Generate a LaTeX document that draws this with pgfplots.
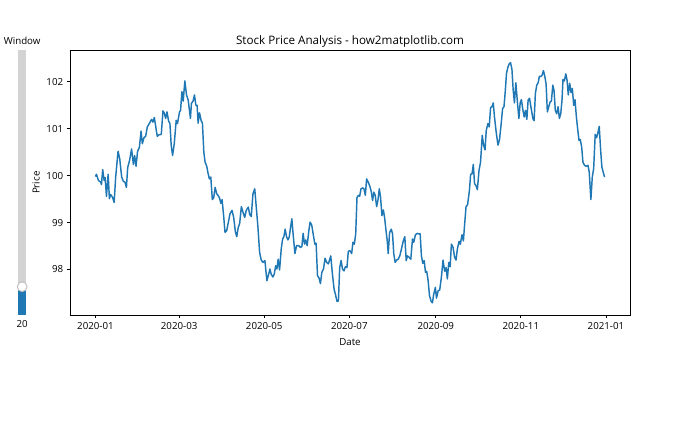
\documentclass[border=0pt]{standalone}
\usepackage{pgfplots}
\pgfplotsset{compat=1.18}
\usepackage{fontspec}
\setmainfont{Open Sans}
\definecolor{mplblue}{HTML}{1F77B4}
\definecolor{trackgrey}{HTML}{D3D3D3}
\definecolor{knobedge}{HTML}{BFBFBF}
\pgfplotstableread{
d p
0.0 99.98
0.7 100.03
2.1 99.90
3.8 99.86
4.3 99.81
5.2 100.13
6.2 99.90
6.9 99.96
7.9 99.56
9.1 100.03
10.0 99.51
10.9 99.60
12.2 99.54
13.4 99.43
14.5 99.97
16.2 100.52
17.4 100.36
18.8 99.97
20.0 99.88
21.2 99.86
22.2 99.75
23.1 100.17
24.5 100.33
25.9 100.57
27.2 100.24
28.1 100.43
29.1 100.20
30.2 100.52
31.5 100.60
32.7 100.95
33.6 100.68
34.8 100.81
36.0 100.84
37.2 101.04
38.8 101.12
40.2 101.20
41.2 101.14
42.2 101.24
43.1 101.07
44.3 100.84
45.5 100.87
47.2 100.88
48.4 101.38
49.3 101.34
50.3 101.22
51.3 101.36
52.4 101.17
53.4 101.11
54.3 100.65
55.3 100.43
56.5 100.68
57.9 101.18
58.8 101.11
60.3 101.36
61.0 101.39
62.0 101.79
62.9 101.59
64.1 102.02
65.3 101.72
66.5 101.61
67.4 101.39
68.1 101.22
68.8 101.54
70.0 101.59
71.0 101.72
72.0 101.50
72.9 101.50
73.6 101.12
74.6 101.34
75.8 101.17
76.7 101.12
77.7 100.50
78.6 100.29
79.8 100.20
80.8 100.04
81.7 99.93
82.7 99.97
83.8 99.49
84.8 99.53
85.8 99.75
87.0 99.61
87.9 99.58
88.9 99.53
89.9 99.41
90.8 99.49
92.0 99.11
92.9 98.79
94.1 98.83
95.3 99.01
96.5 99.19
97.9 99.26
99.1 99.11
100.3 98.81
101.3 98.70
102.4 98.90
103.4 98.98
104.6 99.34
105.8 99.22
107.0 99.11
108.1 99.26
109.6 99.33
110.6 99.17
111.7 99.13
112.9 99.61
114.2 99.72
115.3 99.33
116.5 98.90
117.7 98.36
118.9 98.20
120.1 98.15
121.5 98.19
122.9 97.76
124.2 97.90
125.1 98.01
126.0 97.90
127.2 97.84
128.2 97.90
129.2 98.08
130.1 98.01
131.0 98.22
132.0 97.99
133.2 98.44
134.2 98.65
135.1 98.70
136.0 98.86
137.0 98.70
138.0 98.63
138.9 98.69
139.9 98.90
140.8 99.08
141.7 98.76
143.0 98.34
144.2 98.51
145.6 98.51
147.0 98.47
148.0 98.49
148.9 98.77
149.9 98.54
150.8 98.63
151.8 98.51
153.0 98.83
153.9 99.01
155.1 98.94
156.3 98.72
157.3 98.54
158.2 98.56
159.2 97.87
160.3 97.82
161.3 97.70
162.3 97.94
163.5 98.01
164.6 98.24
165.8 98.15
167.0 98.12
168.7 98.29
169.9 97.90
171.1 97.58
172.3 97.44
173.2 97.32
174.2 97.33
175.1 98.04
176.1 98.19
177.1 98.01
178.2 97.97
179.2 98.06
180.3 98.04
181.3 98.39
182.5 98.40
183.7 98.34
184.6 98.58
185.6 98.54
186.6 98.76
187.5 99.53
188.5 99.58
189.4 99.56
190.4 99.72
191.6 99.74
192.5 99.72
193.5 99.58
194.4 99.93
195.6 99.86
196.8 99.77
197.8 99.65
198.7 99.47
199.6 99.65
200.6 99.58
201.6 99.34
202.5 99.47
203.5 99.72
204.4 99.54
205.4 99.15
206.4 99.27
207.3 99.11
208.2 98.86
209.2 98.61
209.9 98.34
210.9 98.79
212.1 98.86
213.0 98.76
213.9 98.33
214.9 98.15
215.8 98.20
217.1 98.22
218.2 98.29
219.4 98.44
220.7 98.61
221.8 98.70
222.8 98.19
223.7 98.29
224.9 98.26
226.1 98.22
227.3 98.65
228.2 98.58
229.4 98.74
230.7 98.77
231.8 98.76
232.8 98.76
233.7 98.29
234.7 98.13
235.7 98.19
236.6 97.94
237.5 97.96
238.5 97.77
239.5 97.44
240.7 97.32
241.6 97.29
242.5 97.47
243.7 97.62
244.5 97.39
245.7 97.55
246.8 97.56
248.0 97.83
249.2 98.20
250.4 97.96
251.4 98.04
252.3 97.80
253.3 98.15
254.3 98.06
255.2 98.54
256.4 98.47
257.5 98.26
258.5 98.20
259.5 98.44
260.7 98.60
261.6 98.54
262.8 98.74
263.8 98.61
264.7 98.97
265.7 99.34
266.8 99.38
268.1 99.68
269.0 100.03
270.0 100.04
270.9 100.24
271.8 99.83
272.8 99.79
273.8 99.70
275.0 100.11
276.1 100.29
277.3 100.86
278.3 100.65
279.3 100.55
280.2 100.97
281.4 101.11
282.3 101.04
283.3 101.45
284.3 101.47
285.2 101.55
286.1 101.25
287.3 100.93
288.6 100.65
289.7 100.77
290.9 101.11
291.9 101.43
292.9 101.47
293.8 101.79
294.7 102.18
295.7 102.31
296.6 102.38
297.6 102.41
298.6 102.27
299.5 101.82
300.4 101.55
301.4 101.98
302.6 101.54
303.6 101.22
304.5 101.55
305.4 101.62
306.4 101.41
307.4 101.25
308.3 101.39
309.3 101.20
310.2 101.61
311.2 101.65
312.4 101.43
313.6 101.22
314.5 101.17
315.4 101.75
316.4 101.93
317.4 101.98
318.3 102.12
319.3 102.11
320.2 102.14
321.2 102.24
322.2 102.11
323.1 101.95
324.0 101.36
325.0 101.47
326.0 101.57
326.9 101.59
327.9 101.93
328.8 101.81
329.7 101.39
330.7 101.32
331.7 101.47
332.6 101.22
333.6 101.32
334.5 101.61
335.2 102.05
336.2 102.02
337.2 102.17
338.1 102.04
339.0 101.72
340.0 101.97
341.0 101.77
341.9 101.86
342.9 101.50
343.8 101.62
344.7 101.29
345.7 101.00
346.7 100.75
347.6 100.77
348.6 100.61
349.5 100.29
350.7 100.22
351.9 100.20
353.1 100.22
354.0 100.08
355.2 99.49
356.2 99.97
357.2 100.15
358.3 100.88
359.3 100.81
360.2 100.91
361.2 101.05
362.2 100.54
363.1 100.18
365.0 99.97
}\pricedata
\begin{document}
\begin{tikzpicture}[x=1pt,y=1pt]
\path[use as bounding box] (0,0) rectangle (720,432);
% slider widget
\fill[trackgrey] (18.9,108) rectangle (26.7,380.2);
\fill[mplblue] (18.9,108) rectangle (26.7,137.1);
\draw[knobedge, fill=white, line width=1pt] (22.8,137.1) circle (5);
\node[anchor=south, inner sep=0pt, font=\fontsize{10}{12}\selectfont] at (22.8,385.6) {Window};
\node[anchor=north, inner sep=0pt, font=\fontsize{10}{12}\selectfont] at (22.8,102.6) {20};
\begin{axis}[
  at={(72pt,108pt)}, anchor=south west,
  scale only axis, width=576pt, height=272.16pt,
  xmin=-18.25, xmax=383.25, ymin=97.03, ymax=102.67,
  xtick={0,60,121,182,244,305,366},
  xticklabels={2020-01,2020-03,2020-05,2020-07,2020-09,2020-11,2021-01},
  ytick={98,99,100,101,102},
  /pgf/number format/assume math mode=true,
  tick align=outside, tick pos=left,
  major tick length=3.5pt,
  every tick/.style={black, line width=0.8pt},
  axis line style={line width=0.8pt},
  ticklabel style={font=\fontsize{10}{12}\selectfont},
  xticklabel style={yshift=-1pt},
  label style={font=\fontsize{10}{12}\selectfont},
  xlabel style={yshift=-2pt},
  xlabel={Date}, ylabel={Price},
  title={Stock Price Analysis - how2matplotlib.com},
  title style={font=\fontsize{12}{14}\selectfont, yshift=-6pt},
]
\addplot[mplblue, line width=1.5pt, line join=round] table[x=d, y=p] {\pricedata};
\end{axis}
\end{tikzpicture}
\end{document}
